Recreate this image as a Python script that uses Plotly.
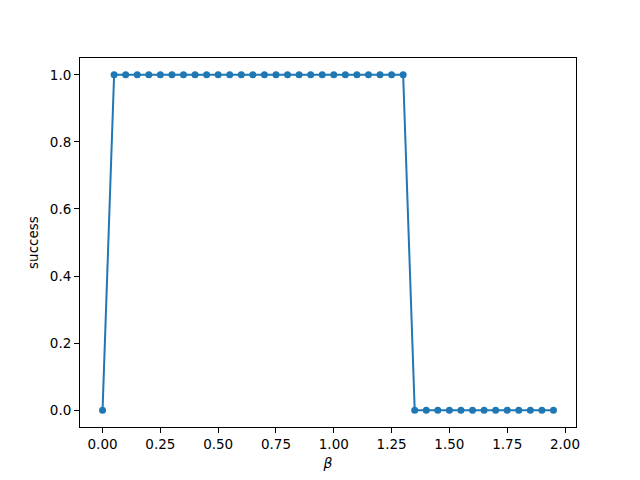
import plotly.graph_objects as go

beta = [round(0.05 * i, 2) for i in range(40)]
success = [0] + [1] * 26 + [0] * 13

x_ticks = [0.0, 0.25, 0.5, 0.75, 1.0, 1.25, 1.5, 1.75, 2.0]
x_tick_labels = ["0.00", "0.25", "0.50", "0.75", "1.00", "1.25", "1.50", "1.75", "2.00"]
y_ticks = [0.0, 0.2, 0.4, 0.6, 0.8, 1.0]
y_tick_labels = ["0.0", "0.2", "0.4", "0.6", "0.8", "1.0"]

fig = go.Figure()
fig.add_trace(go.Scatter(
    x=beta, y=success, mode="lines+markers",
    line=dict(color="#1f77b4", width=2),
    marker=dict(color="#1f77b4", size=7),
    showlegend=False,
))

axis_common = dict(
    showline=True, linecolor="black", linewidth=1, mirror=True,
    ticks="outside", ticklen=5, tickcolor="black", tickwidth=1,
    showgrid=False, zeroline=False,
    tickfont=dict(family="DejaVu Sans", size=13.5, color="black"),
)

fig.update_layout(
    width=640, height=480,
    margin=dict(l=72, r=72, t=50, b=61),
    plot_bgcolor="white", paper_bgcolor="white",
    xaxis=dict(range=[-0.0975, 2.0475], tickvals=x_ticks, ticktext=x_tick_labels,
               title=dict(text="<i>β</i>", font=dict(family="DejaVu Sans", size=14, color="black"), standoff=6),
               **axis_common),
    yaxis=dict(range=[-0.05, 1.05], tickvals=y_ticks, ticktext=y_tick_labels,
               title=dict(text="success", font=dict(family="DejaVu Sans", size=13.5, color="black"), standoff=8),
               **axis_common),
)

fig.write_html("out.html")
